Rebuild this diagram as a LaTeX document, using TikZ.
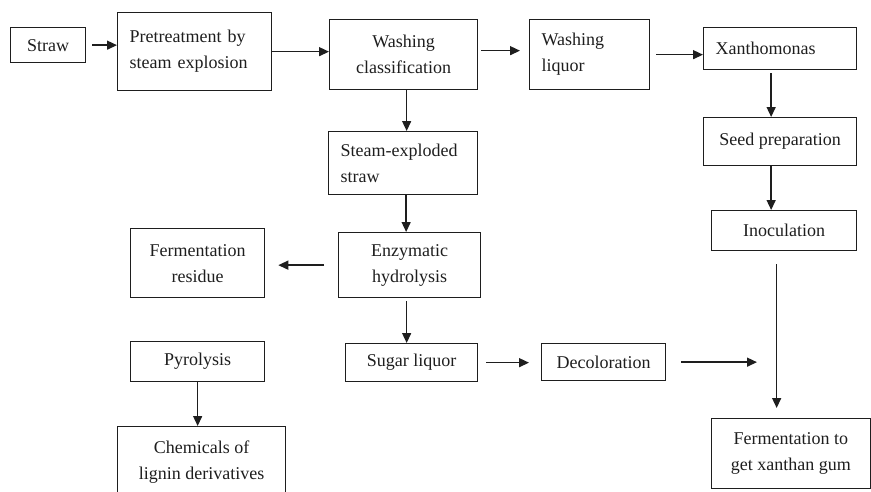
\documentclass[tikz,border=0pt]{standalone}
\usepackage{fontspec}
\setmainfont{Liberation Serif}
\usepackage{tikz}
\usetikzlibrary{arrows.meta,calc}
\definecolor{ink}{HTML}{1E1E1E}
\tikzset{
  box/.style={rectangle, draw=ink, line width=1.3pt, anchor=north west,
              align=center, inner sep=0pt, text=ink,
              font=\fontsize{18pt}{26pt}\selectfont},
  lbox/.style={box, align=left, inner xsep=12pt, inner ysep=0pt},
  fl/.style={-{Triangle[length=10pt,width=9pt]}, draw=ink, line width=1.4pt},
}
\begin{document}
\begin{tikzpicture}[x=1pt,y=-1pt]
\useasboundingbox (0,0) rectangle (871,491);

% --- top row ------------------------------------------------------------
\node[box, minimum width=75pt, minimum height=35pt] (straw) at (10,27) {Straw};
\node[lbox, text width=130pt, minimum height=78pt] (pre) at (117,12)
  {Pretreatment by\\steam explosion\\[-8pt]};
\node[box, minimum width=148pt, minimum height=70pt] (wash) at (329,19)
  {Washing\\classification};
\node[lbox, text width=96pt, minimum height=70pt] (liq) at (529,19)
  {Washing\\liquor};
\node[lbox, text width=129pt, minimum height=42pt] (xan) at (703,27)
  {Xanthomonas};
\draw[fl, shorten <=6pt] (straw.east) -- (straw.east -| pre.west);
\draw[fl] (pre.east) -- (pre.east -| wash.west);
\draw[fl, shorten <=3pt, shorten >=9pt] ([yshift=4pt]wash.east) -- ([yshift=4pt]wash.east -| liq.west);
\draw[fl, shorten <=6pt] (liq.east) -- (liq.east -| xan.west);

% --- xanthomonas branch -------------------------------------------------
\node[box, minimum width=153pt, minimum height=48pt] (seed) at (703,117)
  {Seed preparation};
\node[box, minimum width=145pt, minimum height=40pt] (inoc) at (711,210)
  {Inoculation};
\node[box, minimum width=158.5pt, minimum height=70pt] (ferm) at (711,418)
  {Fermentation to\\get xanthan gum};
\draw[fl, shorten <=3pt] ([xshift=-9pt]xan.south) -- ([xshift=-9pt]xan.south |- seed.north);
\draw[fl] ([xshift=-9pt]seed.south) -- ([xshift=-9pt]seed.south |- inoc.north);
\draw[fl, shorten <=13pt, shorten >=10pt] ([xshift=-7.5pt]inoc.south) -- ([xshift=-7.5pt]inoc.south |- ferm.north);

% --- straw branch -------------------------------------------------------
\node[lbox, text width=125pt, minimum height=63pt] (sxs) at (328,131)
  {Steam-exploded\\straw};
\node[box, minimum width=142pt, minimum height=65pt] (enz) at (338,232)
  {Enzymatic\\hydrolysis};
\node[box, minimum width=134pt, minimum height=69pt] (fres) at (130,228)
  {Fermentation\\residue};
\node[box, minimum width=132pt, minimum height=38pt] (sug) at (345,343)
  {Sugar liquor};
\node[box, minimum width=124pt, minimum height=37pt] (dec) at (541,343)
  {Decoloration};
\coordinate (join) at (757,361);
\draw[fl] ([xshift=3pt]wash.south) -- ([xshift=3pt]wash.south |- sxs.north);
\draw[fl] ([xshift=3pt]sxs.south) -- ([xshift=3pt]sxs.south |- enz.north);
\draw[fl, shorten <=14pt, shorten >=13pt] (enz.west) -- (enz.west -| fres.east);
\draw[fl, shorten <=3pt] ([xshift=-3pt]enz.south) -- ([xshift=-3pt]enz.south |- sug.north);
\draw[fl, shorten <=8pt, shorten >=12pt] (sug.east) -- (sug.east -| dec.west);
\draw[fl, shorten <=15pt] (dec.east) -- (dec.east -| join);

% --- residue branch -----------------------------------------------------
\node[box, minimum width=134pt, minimum height=40pt] (pyr) at (130,341)
  {Pyrolysis};
\node[box, minimum width=168pt, minimum height=70pt] (chem) at (117,426)
  {Chemicals of\\lignin derivatives};
\draw[fl] (pyr.south) -- (pyr.south |- chem.north);
\end{tikzpicture}
\end{document}
